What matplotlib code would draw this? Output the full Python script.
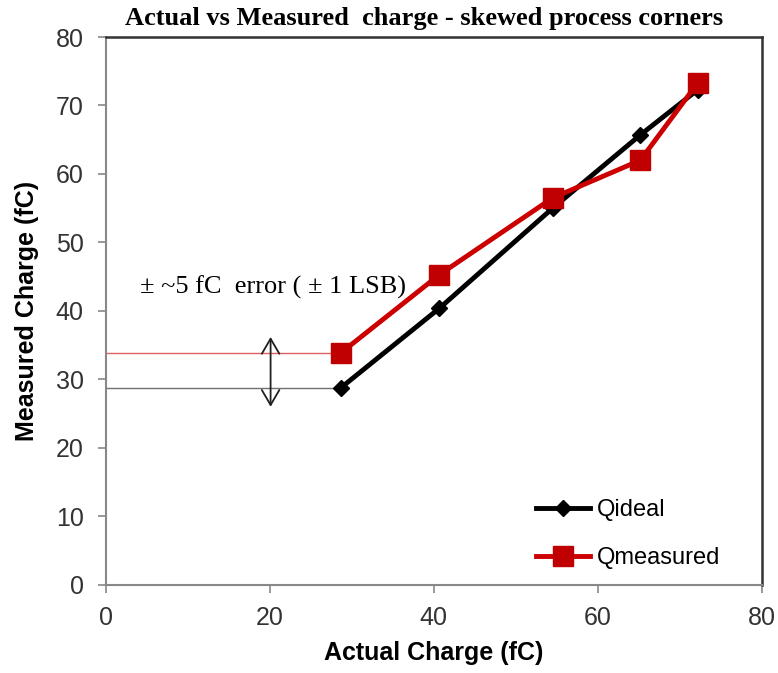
import matplotlib
matplotlib.use("Agg")
import matplotlib.pyplot as plt

# values
actual = [28.7, 40.7, 54.5, 65.2, 72.2]
q_ideal = [28.8, 40.4, 55.0, 65.7, 72.3]
q_measured = [33.9, 45.3, 56.5, 62.0, 73.3]
x_ticks = [0, 20, 40, 60, 80]
y_ticks = [0, 10, 20, 30, 40, 50, 60, 70, 80]

fig = plt.figure(figsize=(7.78, 6.73), dpi=100)
ax = fig.add_axes([0.136, 0.131, 0.843, 0.814])

# guide lines from the y axis to the first points
ax.plot([0, actual[0]], [q_measured[0], q_measured[0]], color="#e06060", lw=1)
ax.plot([0, actual[0]], [q_ideal[0], q_ideal[0]], color="#707070", lw=1)
ax.annotate("", xy=(20.1, 26.0), xytext=(20.1, 36.2),
            arrowprops=dict(arrowstyle="<->,head_length=0.6,head_width=0.35",
                            color="#202020", lw=1.3, mutation_scale=18,
                            shrinkA=0, shrinkB=0))
ax.text(20.4, 43.5, "\u00b1 ~5 fC  error ( \u00b1 1 LSB)", ha="center", va="center",
        fontsize=19, family="Liberation Serif")

ax.plot(actual, q_ideal, color="black", lw=3.5, marker="D", ms=8, label="Qideal")
ax.plot(actual, q_measured, color="#cc0000", lw=3.5, marker="s", ms=14,
        mfc="#c00000", mec="#c00000", label="Qmeasured")

ax.set_xlim(0, 80)
ax.set_ylim(0, 80)
ax.set_xticks(x_ticks)
ax.set_yticks(y_ticks)
ax.tick_params(labelsize=18, labelcolor="#333333", color="#888888", length=6, width=1.2)
ax.tick_params(axis="y", pad=10)
ax.tick_params(axis="x", pad=9)
for lab in ax.get_xticklabels() + ax.get_yticklabels():
    lab.set_family("Liberation Sans")
for s in ["left", "bottom"]:
    ax.spines[s].set_color("#888888")
    ax.spines[s].set_linewidth(1.5)
for s in ["top", "right"]:
    ax.spines[s].set_color("#333333")
    ax.spines[s].set_linewidth(1.8)

ax.set_xlabel("Actual Charge (fC)", fontsize=18, fontweight="bold", family="Liberation Sans", labelpad=8)
ax.set_ylabel("Measured Charge (fC)", fontsize=18, fontweight="bold", family="Liberation Sans", labelpad=12)
fig.text(0.545, 0.972, "Actual vs Measured  charge - skewed process corners", ha="center", va="center",
         fontsize=19, fontweight="bold", family="Liberation Serif")

leg = ax.legend(loc="lower right", frameon=False, handlelength=2.3,
                labelspacing=1.1, bbox_to_anchor=(0.97, -0.01), handletextpad=0.3,
                prop={"family": "Liberation Sans", "size": 17})

fig.savefig("out.png", dpi=100)
